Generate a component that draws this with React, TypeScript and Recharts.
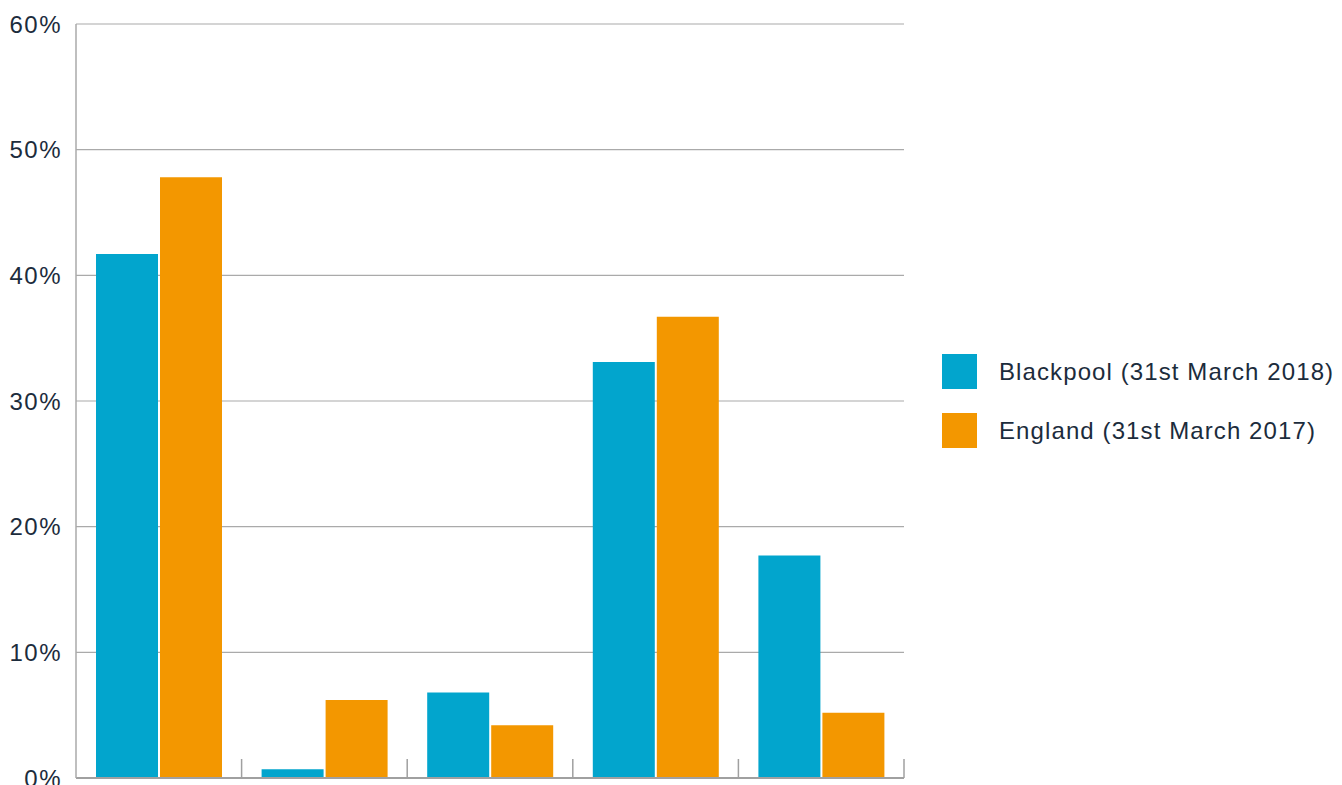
import { BarChart, Bar, XAxis, YAxis, CartesianGrid } from 'recharts';

const categories = ['Group 1', 'Group 2', 'Group 3', 'Group 4', 'Group 5'];
const blackpool = [41.7, 0.7, 6.8, 33.1, 17.7];
const england = [47.8, 6.2, 4.2, 36.7, 5.2];
const yTicks = [0, 10, 20, 30, 40, 50, 60];

const series = [
  { key: 'blackpool', name: 'Blackpool (31st March 2018)', color: '#02a5cd' },
  { key: 'england', name: 'England (31st March 2017)', color: '#f39700' },
];

const data = categories.map((c, i) => ({ category: c, blackpool: blackpool[i], england: england[i] }));

const FONT = '"Liberation Sans", Arial, Helvetica, sans-serif';
const TEXT = '#1c2c3c';
const BAND = (904 - 76) / categories.length;

// ticks sit on the category boundaries and point up into the plot
const boundaryTick = (props: any) => {
  const { x, y, payload } = props;
  const half = payload && payload.offset ? payload.offset : BAND / 2;
  const bx = x + half;
  return (
    <g>
      <line x1={bx} x2={bx} y1={y - 19} y2={y} stroke="#a0a0a0" strokeWidth={1.5} />
    </g>
  );
};

export default function App() {
  return (
    <div style={{ position: 'absolute', left: 0, top: 0, width: 1342, height: 785 }}>
      <BarChart
        width={1342}
        height={785}
        data={data}
        margin={{ top: 24, right: 438, bottom: 6, left: 0 }}
        barCategoryGap={20}
        barGap={2}
      >
        <CartesianGrid vertical={false} stroke="#aaaaaa" strokeWidth={1.2} />
        <XAxis
          dataKey="category"
          height={1}
          tickSize={0}
          tickMargin={0}
          interval={0}
          tick={boundaryTick}
          axisLine={{ stroke: '#a0a0a0', strokeWidth: 2 }}
        />
        <YAxis
          width={76}
          domain={[0, 60]}
          ticks={yTicks}
          interval={0}
          tickFormatter={(v: number) => `${v}%`}
          tickSize={0}
          tickMargin={14}
          tickLine={false}
          axisLine={{ stroke: '#aaaaaa', strokeWidth: 1.5 }}
          tick={{ fill: TEXT, fontSize: 24, fontFamily: FONT, letterSpacing: 1.5 }}
        />
        {series.map((s) => (
          <Bar key={s.key} dataKey={s.key} name={s.name} fill={s.color} isAnimationActive={false} />
        ))}
      </BarChart>
      <div style={{ position: 'absolute', left: 942, top: 354, fontFamily: FONT }}>
        {series.map((s) => (
          <div key={s.key} style={{ display: 'flex', alignItems: 'center', height: 35, marginBottom: 24 }}>
            <div style={{ width: 35, height: 35, background: s.color }} />
            <span style={{ marginLeft: 22, fontSize: 24, letterSpacing: 1.1, color: TEXT, whiteSpace: 'nowrap' }}>
              {s.name}
            </span>
          </div>
        ))}
      </div>
    </div>
  );
}
